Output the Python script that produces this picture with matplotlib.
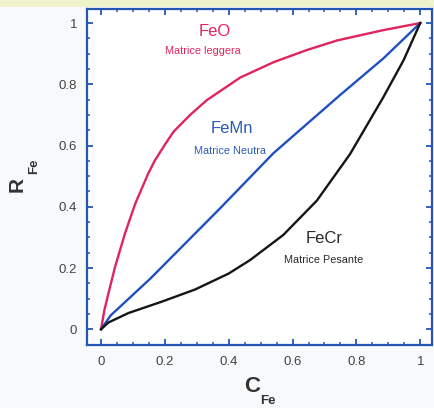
import matplotlib.pyplot as plt
from matplotlib.ticker import MultipleLocator
from matplotlib.patches import Rectangle

plt.rcParams["font.family"] = ["Liberation Sans", "DejaVu Sans"]

# curves
feo_c = [0, 0.01, 0.023, 0.044, 0.075, 0.107, 0.148, 0.169, 0.2, 0.227, 0.279, 0.331,
         0.436, 0.54, 0.645, 0.739, 0.82, 0.885, 0.94, 1.0]
feo_r = [0, 0.06, 0.117, 0.204, 0.313, 0.41, 0.509, 0.552, 0.603, 0.645, 0.700, 0.748,
         0.822, 0.872, 0.912, 0.943, 0.962, 0.977, 0.988, 1.0]

femn_c = [0, 0.03, 0.154, 0.373, 0.54, 0.749, 0.885, 1.0]
femn_r = [0, 0.045, 0.165, 0.395, 0.575, 0.765, 0.885, 1.0]

fecr_c = [0, 0.023, 0.086, 0.19, 0.295, 0.4, 0.467, 0.571, 0.676, 0.78, 0.885, 0.948, 1.0]
fecr_r = [0, 0.022, 0.053, 0.09, 0.13, 0.182, 0.226, 0.308, 0.42, 0.572, 0.759, 0.879, 1.0]

tick_vals = [0, 0.2, 0.4, 0.6, 0.8, 1]
tick_labels = ["0", "0.2", "0.4", "0.6", "0.8", "1"]

frame_col = "#2456b4"
red = "#e0245c"
blue = "#2050c0"

fig = plt.figure(figsize=(4.34, 4.08), dpi=100, facecolor="#f8f9fb")
fig.patches.append(Rectangle((0, 0.983), 1, 0.017, transform=fig.transFigure,
                             facecolor="#eef3cc", edgecolor="none", zorder=0))
ax = fig.add_axes([0.2005, 0.154, 0.795, 0.824])
ax.set_facecolor("white")

ax.plot(feo_c, feo_r, color=red, lw=1.7, solid_joinstyle="round")
ax.plot(femn_c, femn_r, color=blue, lw=1.7, solid_joinstyle="round")
ax.plot(fecr_c, fecr_r, color="#151515", lw=1.7, solid_joinstyle="round")

ax.set_xlim(-0.044, 1.037)
ax.set_ylim(-0.052, 1.046)
ax.set_xticks(tick_vals, tick_labels)
ax.set_yticks(tick_vals, tick_labels)
ax.xaxis.set_minor_locator(MultipleLocator(0.05))
ax.yaxis.set_minor_locator(MultipleLocator(0.05))
ax.tick_params(which="both", direction="in", top=True, right=True,
               color=frame_col, labelcolor="#444444", labelsize=9.5)
ax.tick_params(which="major", length=4, width=1.3)
ax.tick_params(which="minor", length=2.2, width=1.1)
ax.tick_params(axis="x", pad=8)
ax.tick_params(axis="y", pad=7)
for s in ax.spines.values():
    s.set_color(frame_col)
    s.set_linewidth(1.6)

ax.text(0.357, 0.971, "FeO", color=red, fontsize=12, ha="center", va="center")
ax.text(0.320, 0.908, "Matrice leggera", color=red, fontsize=7.8, ha="center", va="center")
ax.text(0.411, 0.657, "FeMn", color="#2a5cb4", fontsize=12, ha="center", va="center")
ax.text(0.404, 0.582, "Matrice Neutra", color="#2a5cb4", fontsize=7.8, ha="center", va="center")
ax.text(0.699, 0.297, "FeCr", color="#2a2a2a", fontsize=12, ha="center", va="center")
ax.text(0.696, 0.225, "Matrice Pesante", color="#2a2a2a", fontsize=7.8, ha="center", va="center")

# axis labels with subscripts
fig.text(0.039, 0.547, "R", rotation=90, fontsize=15, fontweight="bold",
         color="#333333", ha="center", va="center")
fig.text(0.078, 0.593, "Fe", rotation=90, fontsize=9.5, fontweight="bold",
         color="#333333", ha="center", va="center")
fig.text(0.581, 0.052, "C", fontsize=16, fontweight="bold",
         color="#333333", ha="center", va="center")
fig.text(0.6175, 0.016, "Fe", fontsize=9.5, fontweight="bold",
         color="#333333", ha="center", va="center")

fig.savefig("out.png", dpi=100, facecolor=fig.get_facecolor())
